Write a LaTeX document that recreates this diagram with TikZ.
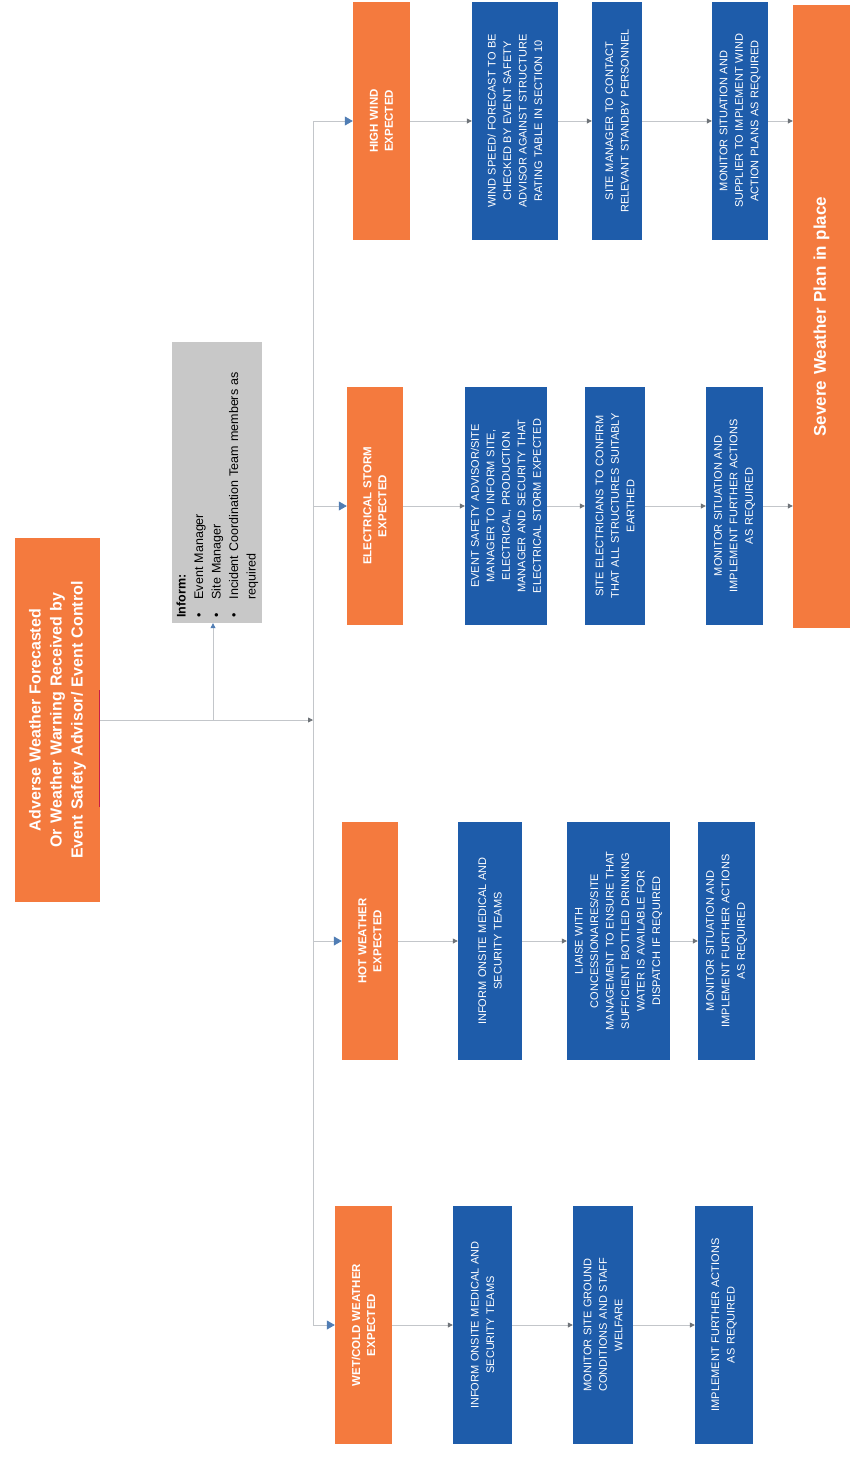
\documentclass[tikz,border=0pt]{standalone}
\usepackage{fontspec}
\setmainfont{Liberation Sans}
\usetikzlibrary{arrows.meta}
\definecolor{orng}{RGB}{244,122,62}
\definecolor{blu}{RGB}{30,92,170}
\definecolor{gry}{RGB}{200,200,200}
\definecolor{lnc}{RGB}{195,198,202}
\definecolor{tipb}{RGB}{80,125,180}
\definecolor{tipg}{RGB}{110,115,120}
\definecolor{redl}{RGB}{200,30,70}
\begin{document}
\begin{tikzpicture}[x=1pt,y=-1pt,
  box/.style={rotate=90, align=center, inner sep=0pt, text=white},
  hdr/.style={box, fill=orng, font=\bfseries\fontsize{11.5}{15}\selectfont, text width=220pt, minimum width=238pt},
  act/.style={box, fill=blu, font=\fontsize{11}{15.5}\selectfont, text width=226pt, minimum width=238pt},
  wd/.style={minimum height=#1pt},
  conn/.style={draw=lnc, line width=0.8pt},
  tip/.style={conn, -{Triangle[color=tipg,length=5pt,width=5pt]}},
  btip/.style={conn, -{Triangle[color=tipb,length=8pt,width=9pt]}}
]
\useasboundingbox (0,0) rectangle (853,1457);

% top box
\node[box, fill=orng, font=\bfseries\fontsize{16}{21}\selectfont, text width=350pt, minimum width=364pt, wd=85] (top) at (57.5,720)
  {Adverse Weather Forecasted\\Or Weather Warning Received by\\Event Safety Advisor/ Event Control};
\draw[redl, line width=0.8pt] (99.5,690) -- (99.5,807);

% inform box
\node[box, fill=gry, text=black, align=left, font=\fontsize{12.5}{17.5}\selectfont, text width=270pt, minimum width=281pt, wd=90] (inf) at (217,482.5)
  {\begin{tabular}{@{}l@{\hspace{1.1em}}l@{}}
   \multicolumn{2}{@{}l}{\textbf{Inform:}}\\
   \textbullet & Event Manager\\
   \textbullet & Site Manager\\
   \textbullet & Incident Coordination Team members as\\
   & required
   \end{tabular}};

% column A
\node[hdr, wd=57] (ha) at (381.5,121) {HIGH WIND\\EXPECTED};
\node[act, wd=86] (a1) at (515,121) {WIND SPEED/ FORECAST TO BE\\CHECKED BY EVENT SAFETY\\ADVISOR AGAINST STRUCTURE\\RATING TABLE IN SECTION 10};
\node[act, wd=50] (a2) at (617,121) {SITE MANAGER TO CONTACT\\RELEVANT STANDBY PERSONNEL};
\node[act, wd=56] (a3) at (740,121) {MONITOR SITUATION AND\\SUPPLIER TO IMPLEMENT WIND\\ACTION PLANS AS REQUIRED};

% column B
\node[hdr, wd=56] (hb) at (375,506) {ELECTRICAL STORM\\EXPECTED};
\node[act, wd=82] (b1) at (506,506) {EVENT SAFETY ADVISOR/SITE\\MANAGER TO INFORM SITE,\\ELECTRICAL, PRODUCTION\\MANAGER AND SECURITY THAT\\ELECTRICAL STORM EXPECTED};
\node[act, wd=60] (b2) at (615,506) {SITE ELECTRICIANS TO CONFIRM\\THAT ALL STRUCTURES SUITABLY\\EARTHED};
\node[act, wd=57] (b3) at (734.5,506) {MONITOR SITUATION AND\\IMPLEMENT FURTHER ACTIONS\\AS REQUIRED};

% column C
\node[hdr, wd=56] (hc) at (370,941) {HOT WEATHER\\EXPECTED};
\node[act, wd=64] (c1) at (490,941) {INFORM ONSITE MEDICAL AND\\SECURITY TEAMS};
\node[act, wd=103] (c2) at (618.5,941) {LIAISE WITH\\CONCESSIONAIRES/SITE\\MANAGEMENT TO ENSURE THAT\\SUFFICIENT BOTTLED DRINKING\\WATER IS AVAILABLE FOR\\DISPATCH IF REQUIRED};
\node[act, wd=57] (c3) at (726.5,941) {MONITOR SITUATION AND\\IMPLEMENT FURTHER ACTIONS\\AS REQUIRED};

% column D
\node[hdr, wd=57] (hd) at (363.5,1325) {WET/COLD WEATHER\\EXPECTED};
\node[act, wd=59] (d1) at (482.5,1325) {INFORM ONSITE MEDICAL AND\\SECURITY TEAMS};
\node[act, wd=60] (d2) at (603,1325) {MONITOR SITE GROUND\\CONDITIONS AND STAFF\\WELFARE};
\node[act, wd=58] (d3) at (724,1325) {IMPLEMENT FURTHER ACTIONS\\AS REQUIRED};

% final bar
\node[box, fill=orng, font=\bfseries\fontsize{17}{20}\selectfont, text width=600pt, minimum width=623pt, wd=57] (fin) at (821.5,316.5) {Severe Weather Plan in place};

% connectors
\coordinate (busm) at (313,720);
\coordinate (br) at (213,720);
\coordinate (busa) at (313,121);
\coordinate (busb) at (313,506);
\coordinate (busc) at (313,941);
\coordinate (busd) at (313,1325);
\draw[tip] (top.south |- busm) -- (busm);
\draw[conn, -{Triangle[color=tipb,length=5pt,width=5pt]}] (br) -- (br |- inf.west);
\draw[conn] (busa) -- (busd);
\draw[btip] (busa) -- (busa -| ha.north);
\draw[btip] (busb) -- (busb -| hb.north);
\draw[btip] (busc) -- (busc -| hc.north);
\draw[btip] (busd) -- (busd -| hd.north);

\draw[tip] (ha.south) -- (a1.north);
\draw[tip] (a1.south) -- (a2.north);
\draw[tip] (a2.south) -- (a3.north);
\draw[tip] (a3.south) -- (a3.south -| fin.north);

\draw[tip] (hb.south) -- (b1.north);
\draw[tip] (b1.south) -- (b2.north);
\draw[tip] (b2.south) -- (b3.north);
\draw[tip] (b3.south) -- (b3.south -| fin.north);

\draw[tip] (hc.south) -- (c1.north);
\draw[tip] (c1.south) -- (c2.north);
\draw[tip] (c2.south) -- (c3.north);

\draw[tip] (hd.south) -- (d1.north);
\draw[tip] (d1.south) -- (d2.north);
\draw[tip] (d2.south) -- (d3.north);
\end{tikzpicture}
\end{document}
